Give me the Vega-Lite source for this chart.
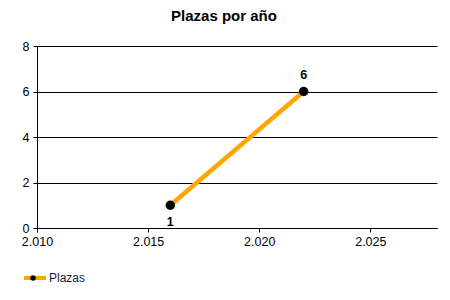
{
  "$schema": "https://vega.github.io/schema/vega-lite/v6.json",
  "width": 400,
  "height": 182,
  "autosize": {"type": "none"},
  "padding": {"left": 37, "top": 46, "right": 13, "bottom": 72},
  "background": "white",
  "config": {
    "font": "Liberation Sans",
    "view": {"stroke": null}
  },
  "title": {
    "text": "Plazas por año",
    "font": "Liberation Sans",
    "fontSize": 15,
    "fontWeight": "bold",
    "color": "black",
    "anchor": "middle",
    "dx": -13,
    "offset": 16
  },
  "data": {
    "values": [
      {"year": 2016, "plazas": 1, "serie": "Plazas"},
      {"year": 2022, "plazas": 6, "serie": "Plazas"}
    ]
  },
  "encoding": {
    "x": {
      "field": "year",
      "type": "quantitative",
      "scale": {"domain": [2010, 2028], "nice": false, "zero": false},
      "axis": {
        "title": null,
        "values": [2010, 2015, 2020, 2025],
        "labelExpr": "replace(format(datum.value, ','), ',', '.')",
        "grid": false,
        "domainColor": "black",
        "tickColor": "black",
        "tickSize": 4,
        "labelPadding": 3,
        "labelFontSize": 12.5,
        "labelColor": "black",
        "labelFont": "Liberation Sans",
        "labelFlush": false
      }
    },
    "y": {
      "field": "plazas",
      "type": "quantitative",
      "scale": {"domain": [0, 8], "nice": false},
      "axis": {
        "title": null,
        "values": [0, 2, 4, 6, 8],
        "grid": true,
        "gridColor": "black",
        "gridOpacity": 1,
        "domainColor": "black",
        "tickColor": "black",
        "tickSize": 4,
        "labelPadding": 4,
        "labelFontSize": 12.5,
        "labelColor": "black",
        "labelFont": "Liberation Sans"
      }
    }
  },
  "layer": [
    {
      "mark": {"type": "line", "strokeWidth": 4.5},
      "encoding": {
        "color": {
          "field": "serie",
          "type": "nominal",
          "scale": {"range": ["#FFA500"]},
          "legend": {
            "title": null,
            "orient": "none",
            "legendX": -15,
            "legendY": 219,
            "padding": 0,
            "symbolType": "stroke",
            "symbolSize": 484,
            "symbolStrokeWidth": 4,
            "labelFontSize": 12,
            "labelFont": "Liberation Sans",
            "labelColor": "#1a1a40",
            "labelOffset": 1
          }
        }
      }
    },
    {
      "mark": {"type": "point", "filled": true, "color": "black", "size": 90, "opacity": 1},
      "encoding": {
        "shape": {
          "field": "serie",
          "type": "nominal",
          "scale": {"range": ["circle"]},
          "legend": {
            "title": null,
            "orient": "none",
            "legendX": -7,
            "legendY": 229,
            "padding": 0,
            "symbolSize": 30,
            "symbolFillColor": "black",
            "symbolStrokeColor": "black",
            "symbolStrokeWidth": 0,
            "labelOpacity": 0,
            "labelFontSize": 1
          }
        }
      }
    },
    {
      "transform": [{"filter": "datum.plazas < 3"}],
      "mark": {"type": "text", "baseline": "top", "dy": 11, "fontWeight": "bold", "fontSize": 12.5, "font": "Liberation Sans", "color": "black"},
      "encoding": {"text": {"field": "plazas", "type": "quantitative"}}
    },
    {
      "transform": [{"filter": "datum.plazas >= 3"}],
      "mark": {"type": "text", "baseline": "bottom", "dy": -10, "fontWeight": "bold", "fontSize": 12.5, "font": "Liberation Sans", "color": "black"},
      "encoding": {"text": {"field": "plazas", "type": "quantitative"}}
    }
  ]
}
